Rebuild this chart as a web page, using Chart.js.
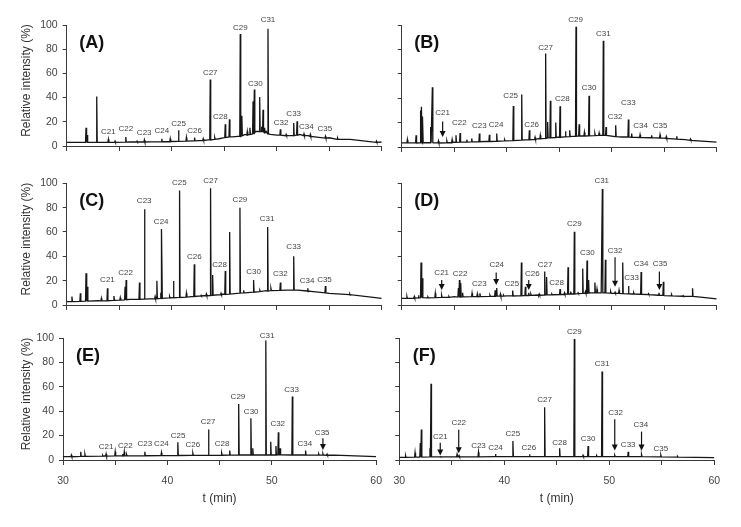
<!DOCTYPE html>
<html>
<head>
<meta charset="utf-8">
<script src="https://cdn.jsdelivr.net/npm/chart.js@4.4.1/dist/chart.umd.min.js"></script>
<style>
  body { margin: 0; background: #fff; }
  #wrap { position: relative; width: 741px; height: 527px; overflow: hidden; background: #fff; }
  canvas { position: absolute; }
</style>
</head>
<body>
<div id="wrap">
  <canvas id="cA" width="392" height="160" style="left:0;top:0"></canvas>
  <canvas id="cB" width="358" height="160" style="left:383px;top:0"></canvas>
  <canvas id="cC" width="392" height="160" style="left:0;top:158px"></canvas>
  <canvas id="cD" width="358" height="160" style="left:383px;top:158px"></canvas>
  <canvas id="cE" width="392" height="214" style="left:0;top:313px"></canvas>
  <canvas id="cF" width="358" height="214" style="left:383px;top:313px"></canvas>
</div>
<script>
// x ticks (min) and y ticks (%)
const timeTicks = [30, 40, 50, 60];
const carbonNames = ['C21','C22','C23','C24','C25','C26','C27','C28','C29','C30','C31','C32','C33','C34','C35'];

// peaks: [time, height, base]   baseline: [time, level]
const peaksA = [[31.84,15,3],[31.95,9,3],[32.86,41,3],[33.97,5.5,3],[34.6,4,3],[35.63,7.4,3.2],[36.7,4,3.3],[37.4,5,3.3],[39.06,6,3.5],[39.86,6,3.6],[40.65,13,3.8],[41.4,7,4],[42.18,7,4.2],[43.0,6,4.6],[43.67,55,5],[44.1,7,5.5],[45.1,18,7],[45.5,22,7.5],[46.53,92.6,8],[46.68,25,8.5],[47.2,12,9],[47.45,15,9.5],[47.75,37,10],[47.87,46.6,11],[48.38,40.5,12],[48.55,16,12],[48.7,30,12],[48.85,15,11],[49.17,97,10],[50.35,13.7,9],[50.9,9.6,8.5],[51.62,19,8.5],[51.94,20.5,9],[52.6,10,8.5],[53.2,9.6,8],[54.64,8,6.5],[55.8,6.5,5.5],[59.5,4,3]];
const baseA = [[30,3],[33,3],[36,3.3],[38,3.4],[40,3.7],[42,4.2],[43.5,5],[44.5,6],[45.8,7.5],[46.3,8],[47,9.5],[48,12],[49,12],[49.4,9.6],[50,9],[51,8.5],[52.2,9.5],[53,8.5],[55,6.8],[57,5.5],[60,3.3]];
const labelsA = [[33.97,11.5],[35.63,14.2],[37.38,11],[39.06,12.3],[40.65,18.6],[42.18,12.9],[43.67,60.8],[44.63,23.8],[46.53,98],[47.96,51.5],[49.17,104],[50.41,19.2],[51.62,26.6],[52.83,15.6],[54.58,14.2]];
const arrowsA = [];

const peaksB = [[30.54,6,3.3],[31.37,9.6,3.3],[31.8,30,3.5],[31.9,33,4],[32.0,25,3.5],[32.76,16.4,3.5],[32.92,49,3.5],[33.5,5,3.3],[34.3,5,3.5],[34.8,6,3.6],[35.17,9.6,3.8],[35.56,11.5,4],[36.2,6,4],[36.67,7,4.2],[37.4,11,4.3],[38.35,10,4.5],[39.05,11,4.7],[39.8,6,5],[40.63,33.7,5.3],[41.43,43,5.6],[42.16,13.7,6],[42.7,8,6.3],[43.2,9.6,6.7],[43.71,76.7,7],[43.9,20.5,7.5],[44.16,38,7.5],[44.67,20,7.8],[45.08,33.4,8],[45.6,13,8.3],[46.0,13.7,8.5],[46.6,98.6,8.8],[46.9,18.6,9],[47.4,12,9],[47.84,42,9.2],[48.4,11,9.3],[48.8,11.5,9.5],[49.2,87,9.6],[49.46,16.4,9.5],[50.38,17.8,8.5],[51.59,22.5,8.2],[51.9,11,8],[52.7,10,7.8],[53.8,9.6,7.6],[54.6,10,7.4],[55.2,8.5,7],[56.2,8.8,6.5],[57.5,6.5,5.5]];
const baseB = [[30,3.3],[33,3.3],[35,4],[38,4.6],[41,5.5],[43,6.8],[45,8.2],[47,9],[49,9.6],[51,8.2],[53,7.7],[55,7.2],[57,6],[60,4]];
const labelsB = [[33.9,28],[35.49,19.7],[37.4,17.3],[38.98,17.8],[40.38,42],[42.38,18.6],[43.71,81.6],[45.3,39.7],[46.57,104],[47.84,48.8],[49.21,92.6],[50.32,24.7],[51.59,36.2],[52.76,17],[54.6,17.3]];
const arrowsB = [[33.9,21,8.2]];

const peaksC = [[30.5,7,2.8],[31.3,9.6,3],[31.84,26,3.2],[31.97,15,3.2],[33.3,5.5,3.4],[33.88,13.7,3.5],[34.5,7.4,3.8],[35.1,6,4],[35.56,15,4.2],[35.66,20.5,4.3],[36.93,18.4,4.7],[37.41,78.6,4.8],[38.42,7,5.2],[38.59,20,5.2],[38.96,10,5.4],[39.06,62.5,5.5],[39.8,7,5.8],[40.17,19.7,6],[40.75,94,6.2],[41.4,9.6,6.5],[42.15,33.4,7],[42.8,8,7.4],[43.3,9,7.6],[43.7,96,7.8],[43.9,24.7,8],[44.7,9.6,8.5],[45.1,28,8.8],[45.52,60,9],[46.5,80,9.8],[46.85,12,10],[47.8,20.5,10.5],[48.4,12,11],[49.14,64,11.5],[49.45,13.7,11.8],[50.35,18.4,12],[51.62,40,12.3],[52.96,13.7,11.5],[53.5,11,11],[54.64,15.6,10],[56.96,9,8.5]];
const baseC = [[30,2.7],[33,3.5],[36,4.7],[39,5.5],[41,6.3],[43,7.7],[45,9],[47,10],[49,11.8],[51,12.3],[52,12.3],[53,11],[55,9.6],[57,8.2],[60,5.5]];
const labelsC = [[33.88,20.5],[35.6,26.6],[37.38,85.5],[39.0,68.5],[40.72,100.8],[42.15,39.7],[43.7,102],[44.56,32.9],[46.5,86.8],[47.8,27.1],[49.08,70.7],[50.35,25.5],[51.62,48],[52.89,20],[54.55,21.1]];
const arrowsC = [];

const peaksD = [[30.5,7,5.5],[31.2,7,5.7],[31.6,8,5.8],[31.84,34.8,6],[31.97,22,6],[32.5,6.5,5.8],[33.2,9.6,6],[33.8,8,6.2],[34.5,7,6.3],[35.4,14,6.5],[35.5,20.5,6.5],[35.62,18,6.5],[35.8,10,6.6],[36.7,9.6,6.8],[37.2,9,6.8],[37.45,9.6,6.9],[38.4,8,7],[38.9,12,7.1],[39.05,14,7.2],[39.4,9,7.2],[39.7,8,7.3],[40.57,11.8,7.4],[41.4,34.8,7.6],[41.78,15,7.8],[42.1,10,7.8],[42.3,9,7.9],[43.1,9,8],[43.62,27.4,8.2],[43.8,23,8.3],[44.3,9,8.4],[45.08,13,8.6],[45.5,10,8.8],[45.84,31,8.9],[46.1,11,9],[46.44,60,9],[46.8,10,9.3],[47.24,30,9.5],[47.5,11,9.6],[47.65,36.4,9.7],[47.8,20.5,9.8],[48.4,18.4,10],[48.6,13,10],[49.11,95,10],[49.4,37,10],[49.9,11,9.8],[50.32,10.5,9.6],[50.7,12,9.5],[51.05,34.8,9.3],[51.6,15.6,9.2],[52.1,10,9],[52.8,27,8.8],[53.5,9.3,8.5],[54.5,10,8],[54.92,19,7.9],[55.7,8.5,7.5],[56.8,7.7,7.2],[57.7,13.7,7]];
const baseD = [[30,5.5],[35,6.8],[40,7.4],[43,8.2],[46,9],[48,10],[49,10],[50,9.6],[52,9],[55,7.7],[58,6.8],[60,5]];
const labelsD = [[33.81,26.8],[35.56,25.2],[37.4,17.3],[39.05,32.9],[40.48,17],[42.44,25.2],[43.65,32.9],[44.76,18.4],[46.44,66.3],[47.68,42.5],[49.05,101.4],[50.32,44.7],[51.9,21.9],[52.79,33.4],[54.6,33.4]];
const arrowsD = [[33.81,20.5,12.3],[39.0,26.6,16.4],[42.1,20.5,12.3],[50.32,39.2,15],[54.54,27.4,12.3]];

const peaksE = [[30.8,4,2.7],[31.7,6.8,3],[32.1,4.8,3],[33.8,3.8,3.1],[34.13,5,3.2],[35.0,6.8,3.3],[35.7,5,3.3],[35.87,6.8,3.4],[36.1,4.5,3.4],[37.84,6.8,3.5],[39.43,6,3.6],[41.0,14.5,3.7],[42.44,5.5,3.8],[43.94,25,3.8],[45.2,5.5,3.9],[45.97,7.7,4],[46.83,45.8,4],[48.0,34.2,4.1],[48.18,9.6,4.1],[49.43,98,4.1],[49.9,15,4.1],[50.4,11.5,4.1],[50.63,22.7,4.2],[50.8,9.6,4.2],[51.97,52,4.1],[53.24,7.7,4.1],[54.5,5,4],[54.9,5.2,4],[55.3,4.8,3.9]];
const baseE = [[30,2.7],[34,3.3],[40,3.6],[44,3.8],[47,4.1],[50,4.1],[53,4.1],[56,4],[60,2.7]];
const labelsE = [[34.13,11],[35.97,11.8],[37.84,13.2],[39.43,13.2],[41.02,19.7],[42.44,12.3],[43.9,31],[45.24,12.9],[46.76,52],[48.03,39.7],[49.56,102],[50.57,29.3],[51.9,57.5],[53.17,12.9],[54.83,21.9]];
const arrowsE = [[54.9,17.8,8.2]];

const peaksF = [[30.6,3.6,2.2],[31.5,6,2.3],[32.0,14,2.4],[32.1,25,2.4],[32.92,9.6,2.5],[33.02,62.5,2.5],[33.9,2.8,2.5],[35.5,4.7,2.6],[35.7,3.5,2.6],[37.54,6.3,2.6],[39.16,5,2.7],[40.82,15.6,2.7],[42.4,4.7,2.7],[43.84,43.3,2.7],[45.27,9.6,2.8],[46.67,99.2,2.8],[47.5,3.8,2.8],[47.98,11.5,2.8],[48.8,3.5,2.8],[49.31,72.6,2.8],[50.52,3.8,2.8],[51.8,6.8,2.7],[53.07,4.5,2.7],[54.91,4,2.6],[56.5,3,2.4]];
const baseF = [[30,2.2],[35,2.5],[40,2.7],[45,2.8],[50,2.8],[55,2.6],[60,2]];
const labelsF = [[33.91,19.2],[35.66,30.1],[37.54,12],[39.16,10.1],[40.82,21.1],[42.34,10.1],[43.84,49.3],[45.27,14.5],[46.67,104.7],[47.98,17],[49.31,78.6],[50.59,38.9],[51.8,12.3],[53.0,28.8],[54.91,8.8]];
const arrowsF = [[33.9,14.2,3.6],[35.66,24.7,5.5],[50.52,33.4,7.7],[53.07,23.3,7.7]];

const FONT = '"Liberation Sans", Arial, sans-serif';
const AXIS = '#3a3a3a';

// merge baseline and peak table into one sorted trace
function buildTrace(base, peaks) {
    const pts = base.map(p => ({ x: p[0], y: p[1] }));
    peaks.forEach(p => {
        pts.push({ x: p[0] - 0.045, y: p[2] });
        pts.push({ x: p[0], y: p[1] });
        pts.push({ x: p[0] + 0.045, y: p[2] });
    });
    pts.sort((a, b) => a.x - b.x);
    return pts;
}

// peak labels, arrows, panel letter, y title
const annotPlugin = {
    id: 'annot',
    afterDraw(chart, args, o) {
        const { ctx, chartArea } = chart;
        const xs = chart.scales.x, ys = chart.scales.y;
        ctx.save();
        ctx.fillStyle = '#444';
        ctx.font = '8px ' + FONT;
        ctx.textAlign = 'center';
        ctx.textBaseline = 'middle';
        o.labels.forEach((p, i) => {
            ctx.fillText(carbonNames[i], xs.getPixelForValue(p[0]), ys.getPixelForValue(p[1]));
        });
        ctx.strokeStyle = '#111';
        ctx.fillStyle = '#111';
        ctx.lineWidth = 1.2;
        o.arrows.forEach(a => {
            const px = xs.getPixelForValue(a[0]);
            const y1 = ys.getPixelForValue(a[1]);
            const y2 = ys.getPixelForValue(a[2]);
            ctx.beginPath();
            ctx.moveTo(px, y1);
            ctx.lineTo(px, y2 - 5);
            ctx.stroke();
            ctx.beginPath();
            ctx.moveTo(px - 3, y2 - 6);
            ctx.lineTo(px + 3, y2 - 6);
            ctx.lineTo(px, y2);
            ctx.closePath();
            ctx.fill();
        });
        ctx.fillStyle = '#111';
        ctx.font = 'bold 18px ' + FONT;
        ctx.fillText(o.letter, chartArea.left + 25, chartArea.top + 18);
        if (o.yTitle) {
            ctx.fillStyle = '#333';
            ctx.font = '12px ' + FONT;
            ctx.translate(27, (chartArea.top + chartArea.bottom) / 2 - 5);
            ctx.rotate(-Math.PI / 2);
            ctx.fillText('Relative intensity (%)', 0, 0);
        }
        ctx.restore();
    }
};

function makePanel(id, cfg) {
    const showX = cfg.showX, showY = cfg.showY;
    new Chart(document.getElementById(id), {
        type: 'line',
        data: {
            datasets: [{
                data: buildTrace(cfg.base, cfg.peaks),
                borderColor: '#161616',
                borderWidth: 1.3,
                pointRadius: 0,
                tension: 0
            }]
        },
        options: {
            responsive: false,
            animation: false,
            devicePixelRatio: 1,
            layout: { padding: { top: cfg.padTop, right: cfg.padRight, left: 0, bottom: 0 } },
            plugins: {
                legend: { display: false },
                tooltip: { enabled: false },
                annot: { labels: cfg.labels, arrows: cfg.arrows, letter: cfg.letter, yTitle: showY }
            },
            scales: {
                x: {
                    type: 'linear',
                    min: 30, max: 60,
                    afterFit: s => { s.height = cfg.xHeight; },
                    ticks: {
                        stepSize: 5,
                        autoSkip: false,
                        maxRotation: 0,
                        padding: 10,
                        color: '#444',
                        font: { size: 10.5, family: FONT },
                        callback: v => (showX && timeTicks.includes(v)) ? String(v) : ''
                    },
                    grid: { drawOnChartArea: false, drawTicks: true, tickLength: 5, color: AXIS },
                    border: { display: true, color: AXIS, width: 1 },
                    title: {
                        display: showX,
                        text: 't (min)',
                        color: '#333',
                        font: { size: 12, family: FONT },
                        padding: { top: 0, bottom: 21 }
                    }
                },
                y: {
                    min: 0, max: 100,
                    afterFit: s => { s.width = cfg.yWidth; },
                    ticks: {
                        stepSize: 20,
                        padding: 5,
                        color: '#444',
                        font: { size: 10.5, family: FONT },
                        callback: v => showY ? String(v) : ''
                    },
                    grid: { drawOnChartArea: false, drawTicks: true, tickLength: 4, color: AXIS },
                    border: { display: true, color: AXIS, width: 1 }
                }
            }
        },
        plugins: [annotPlugin]
    });
}

makePanel('cA', { peaks: peaksA, base: baseA, labels: labelsA, arrows: arrowsA, letter: '(A)', showX: false, showY: true, padTop: 25, padRight: 10.3, yWidth: 66.7, xHeight: 14 });
makePanel('cB', { peaks: peaksB, base: baseB, labels: labelsB, arrows: arrowsB, letter: '(B)', showX: false, showY: false, padTop: 25, padRight: 24.3, yWidth: 18.7, xHeight: 13 });
makePanel('cC', { peaks: peaksC, base: baseC, labels: labelsC, arrows: arrowsC, letter: '(C)', showX: false, showY: true, padTop: 25.3, padRight: 10.3, yWidth: 66.7, xHeight: 13 });
makePanel('cD', { peaks: peaksD, base: baseD, labels: labelsD, arrows: arrowsD, letter: '(D)', showX: false, showY: false, padTop: 25, padRight: 24.3, yWidth: 18.7, xHeight: 13 });
makePanel('cE', { peaks: peaksE, base: baseE, labels: labelsE, arrows: arrowsE, letter: '(E)', showX: true, showY: true, padTop: 25, padRight: 14, yWidth: 63, xHeight: 67 });
makePanel('cF', { peaks: peaksF, base: baseF, labels: labelsF, arrows: arrowsF, letter: '(F)', showX: true, showY: false, padTop: 25, padRight: 26.7, yWidth: 16.3, xHeight: 67 });
</script>
</body>
</html>
